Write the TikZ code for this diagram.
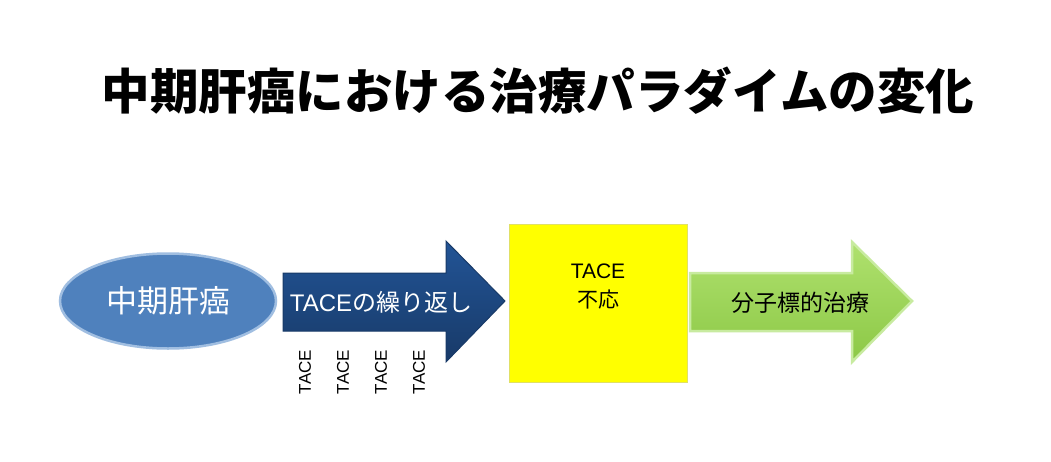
\documentclass[tikz,border=0pt]{standalone}
\usepackage{fontspec}
\setmainfont{Liberation Sans}
\newfontfamily\jp{Noto Sans CJK JP}
\usepackage{tikz}
\usetikzlibrary{shapes.geometric}
\definecolor{stageblue}{RGB}{79,129,189}
\definecolor{stageglow}{RGB}{160,190,225}
\definecolor{repeattop}{RGB}{34,84,150}
\definecolor{repeatbot}{RGB}{24,58,104}
\definecolor{failyellow}{RGB}{255,255,0}
\definecolor{targettop}{RGB}{175,225,110}
\definecolor{targetbot}{RGB}{140,200,70}
\definecolor{targetglow}{RGB}{200,235,160}
\tikzset{
  titletext/.style={font=\jp\bfseries\fontsize{48.5}{50}\selectfont},
  tacelabel/.style={rotate=90,font=\fontsize{17}{19}\selectfont,inner sep=0pt},
  arrowtext/.style={inner sep=0pt}
}

\begin{document}
\begin{tikzpicture}[x=1pt,y=-1pt]
			%%%%% START %%%%%
			\useasboundingbox[fill=white] (0,0) rectangle (1051,461);
			
			\node[titletext] (title) at (538,91) {中期肝癌における治療パラダイムの変化};
			
			\node[ellipse, minimum width=216pt, minimum height=95pt, fill=stageblue, draw=stageglow, line width=2.5pt,
			      text=white, font=\jp\fontsize{31}{34}\selectfont] (stage) at (168,301) {中期肝癌};
			
			\draw[top color=repeattop, bottom color=repeatbot, draw=repeatbot, line width=1pt]
			  (283,273) -- (446,273) -- (446,241) -- (505,301) -- (446,362) -- (446,331) -- (283,331) -- cycle;
			\node[arrowtext, text=white, font=\fontsize{24}{26}\selectfont] (repeat) at (381,302) {TACE{\jp の繰り返し}};
			
			\foreach \x/\n in {305/1, 343/2, 381/3, 419/4}
			  \node[tacelabel] (tace\n) at (\x,372) {TACE};
			
			\node[rectangle, minimum width=178pt, minimum height=158pt, fill=failyellow, draw=failyellow!80!black!60, line width=0.4pt]
			  (fail) at (598,303) {};
			\node[arrowtext, align=center, font=\fontsize{21}{29}\selectfont] (failtext) at (598,287) {TACE\\{\jp 不応}};
			
			\draw[top color=targettop, bottom color=targetbot, draw=targetglow, line width=2.5pt]
			  (690,273) -- (852,273) -- (852,242) -- (912,301) -- (852,362) -- (852,331) -- (690,331) -- cycle;
			\node[arrowtext, font=\jp\fontsize{23}{25}\selectfont] (target) at (800,303) {分子標的治療};
			
			%%%%% END %%%%%
\end{tikzpicture}
\end{document}
